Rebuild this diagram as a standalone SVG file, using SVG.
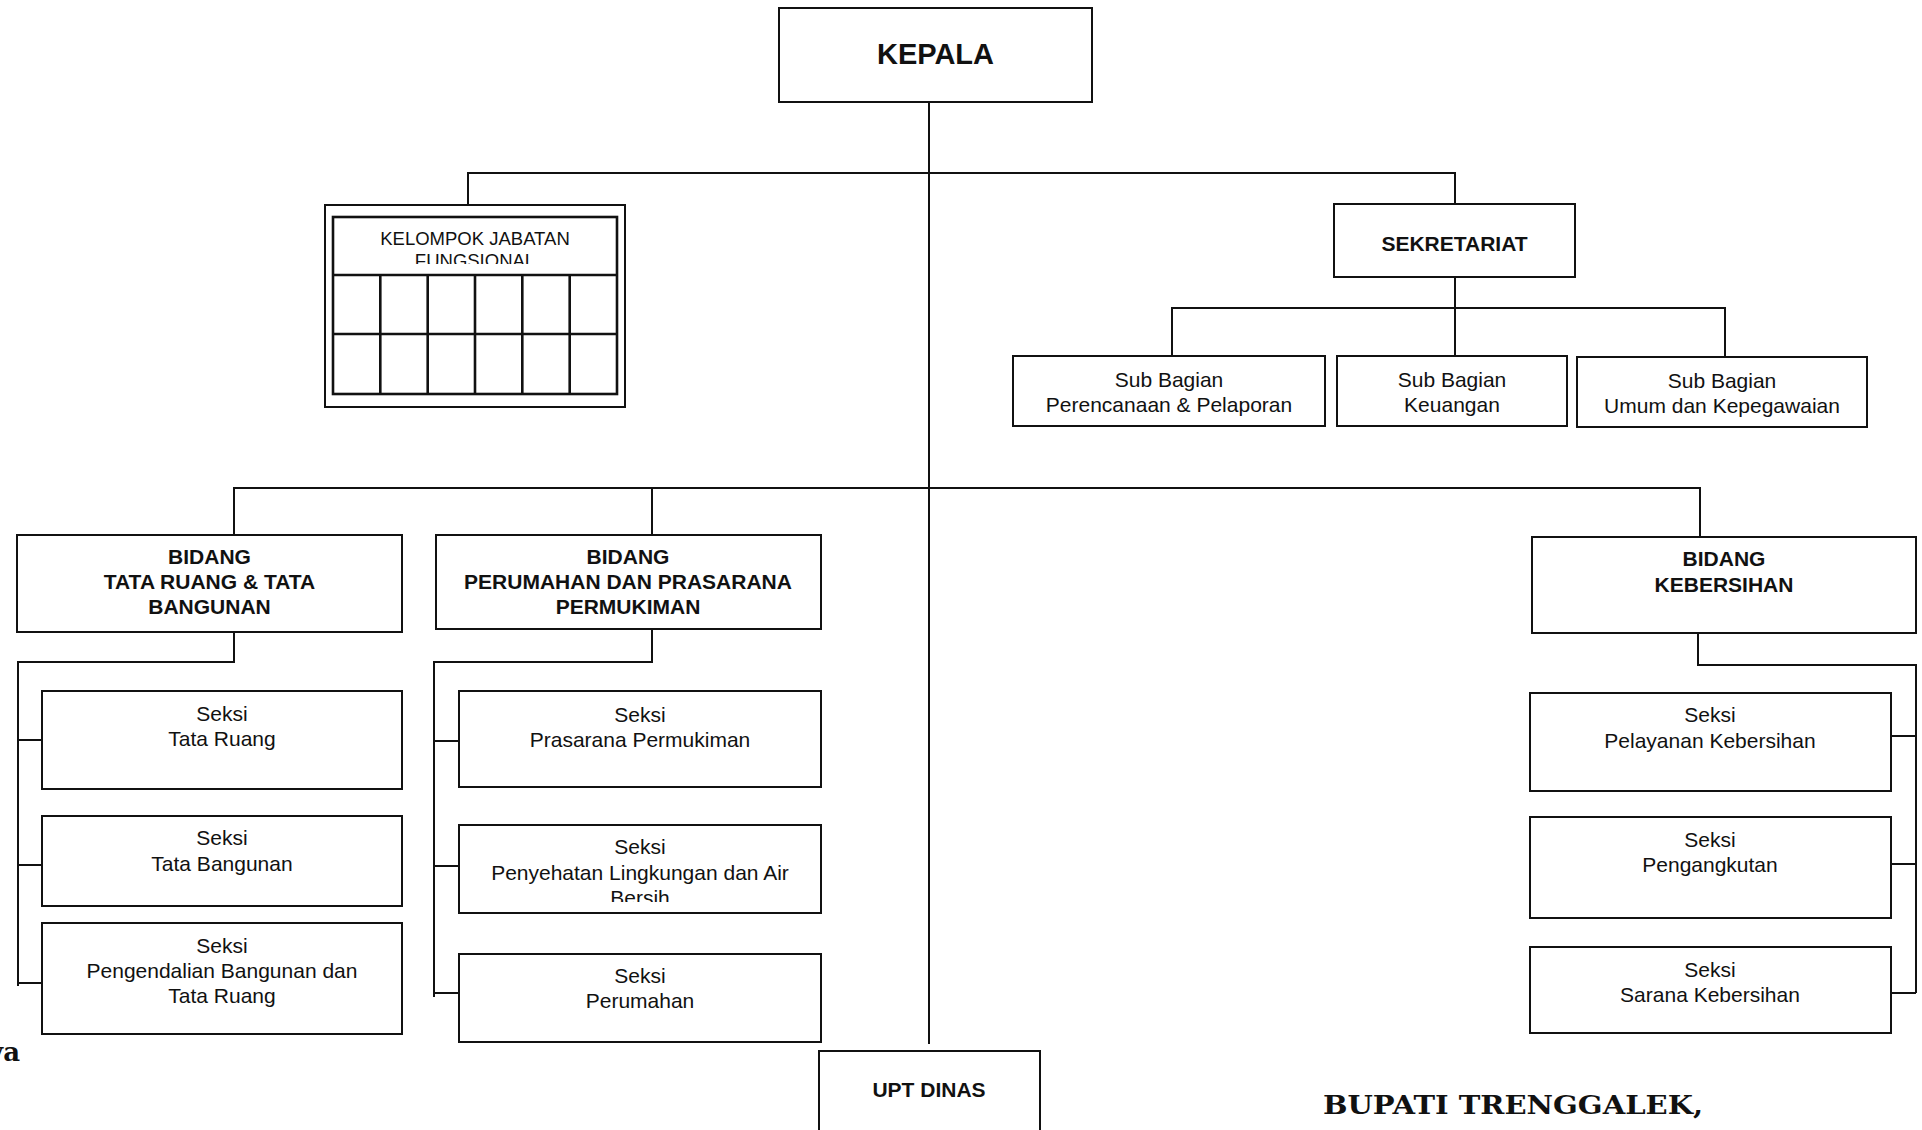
<svg xmlns="http://www.w3.org/2000/svg" width="1922" height="1130" viewBox="0 0 1922 1130">
  <style>
    .box { fill: #ffffff; stroke: #111111; stroke-width: 2; }
    .grid { fill: none; stroke: #111111; stroke-width: 2.6; }
    .conn { fill: none; stroke: #111111; stroke-width: 2; }
    text { font-family: "Liberation Sans", Arial, sans-serif; fill: #111111; text-anchor: middle; }
    .h { font-size: 21px; font-weight: bold; }
    .n { font-size: 21px; }
    .big { font-size: 29px; font-weight: bold; }
    .small { font-size: 18.5px; }
    .sig { font-family: "DejaVu Serif", "Liberation Serif", serif; font-size: 26px; font-weight: bold; }
  </style>
  <defs>
    <clipPath id="clipFungsional"><rect x="333" y="217" width="284" height="47"/></clipPath>
    <clipPath id="clipBersih"><rect x="459" y="825" width="362" height="77"/></clipPath>
  </defs>

  <rect x="0" y="0" width="1922" height="1130" fill="#ffffff"/>

  <!-- connectors -->
  <g id="connectors" class="conn">
    <!-- main spine -->
    <path d="M929 102 V1044"/>
    <!-- upper branch: fungsional / sekretariat -->
    <path d="M468 205 V173 H1455 V204"/>
    <!-- sekretariat to sub bagian -->
    <path d="M1455 277 V308"/>
    <path d="M1172 356 V308 H1725 V357"/>
    <path d="M1455 308 V356"/>
    <!-- lower branch: bidang -->
    <path d="M652 535 V488 H234 V535"/>
    <path d="M652 488 H1700 V537"/>
    <!-- bidang tata ruang to seksi -->
    <path d="M234 632 V662 H18 V986"/>
    <path d="M18 740 H42 M18 865 H42 M18 983 H42"/>
    <!-- bidang perumahan to seksi -->
    <path d="M652 629 V662 H434 V997"/>
    <path d="M434 741 H459 M434 866 H459 M434 993 H459"/>
    <!-- bidang kebersihan to seksi -->
    <path d="M1698 633 V665 H1916 V993"/>
    <path d="M1891 736 H1916 M1891 864 H1916 M1891 993 H1916"/>
  </g>

  <g id="kepala">
    <rect class="box" x="779" y="8" width="313" height="94"/>
    <text class="big" x="935.5" y="64">KEPALA</text>
  </g>

  <g id="kelompok-jabatan-fungsional">
    <rect class="box" x="325" y="205" width="300" height="202"/>
    <rect class="grid" x="333" y="217" width="284" height="177"/>
    <path class="grid" d="M333 275 H617 M333 334 H617 M380.3 275 V394 M427.7 275 V394 M475 275 V394 M522.3 275 V394 M569.7 275 V394"/>
    <text class="small" x="475" y="245">KELOMPOK JABATAN</text>
    <text class="small" x="475" y="267" clip-path="url(#clipFungsional)">FUNGSIONAL</text>
  </g>

  <g id="sekretariat">
    <rect class="box" x="1334" y="204" width="241" height="73"/>
    <text class="h" x="1454.5" y="251">SEKRETARIAT</text>
  </g>

  <g id="subbag-perencanaan">
    <rect class="box" x="1013" y="356" width="312" height="70"/>
    <text class="n" x="1169" y="387">Sub Bagian</text>
    <text class="n" x="1169" y="412">Perencanaan &amp; Pelaporan</text>
  </g>

  <g id="subbag-keuangan">
    <rect class="box" x="1337" y="356" width="230" height="70"/>
    <text class="n" x="1452" y="387">Sub Bagian</text>
    <text class="n" x="1452" y="412">Keuangan</text>
  </g>

  <g id="subbag-umum">
    <rect class="box" x="1577" y="357" width="290" height="70"/>
    <text class="n" x="1722" y="388">Sub Bagian</text>
    <text class="n" x="1722" y="413">Umum dan Kepegawaian</text>
  </g>

  <g id="bidang-tata-ruang">
    <rect class="box" x="17" y="535" width="385" height="97"/>
    <text class="h" x="209.5" y="564">BIDANG</text>
    <text class="h" x="209.5" y="589">TATA RUANG &amp; TATA</text>
    <text class="h" x="209.5" y="614">BANGUNAN</text>
  </g>

  <g id="bidang-perumahan">
    <rect class="box" x="436" y="535" width="385" height="94"/>
    <text class="h" x="628" y="564">BIDANG</text>
    <text class="h" x="628" y="589">PERUMAHAN DAN PRASARANA</text>
    <text class="h" x="628" y="614">PERMUKIMAN</text>
  </g>

  <g id="bidang-kebersihan">
    <rect class="box" x="1532" y="537" width="384" height="96"/>
    <text class="h" x="1724" y="566">BIDANG</text>
    <text class="h" x="1724" y="592">KEBERSIHAN</text>
  </g>

  <g id="seksi-tata-ruang">
    <rect class="box" x="42" y="691" width="360" height="98"/>
    <text class="n" x="222" y="721">Seksi</text>
    <text class="n" x="222" y="746">Tata Ruang</text>
  </g>

  <g id="seksi-tata-bangunan">
    <rect class="box" x="42" y="816" width="360" height="90"/>
    <text class="n" x="222" y="845">Seksi</text>
    <text class="n" x="222" y="870.5">Tata Bangunan</text>
  </g>

  <g id="seksi-pengendalian">
    <rect class="box" x="42" y="923" width="360" height="111"/>
    <text class="n" x="222" y="953">Seksi</text>
    <text class="n" x="222" y="978">Pengendalian Bangunan dan</text>
    <text class="n" x="222" y="1003">Tata Ruang</text>
  </g>

  <g id="seksi-prasarana">
    <rect class="box" x="459" y="691" width="362" height="96"/>
    <text class="n" x="640" y="722">Seksi</text>
    <text class="n" x="640" y="747">Prasarana Permukiman</text>
  </g>

  <g id="seksi-penyehatan">
    <rect class="box" x="459" y="825" width="362" height="88"/>
    <text class="n" x="640" y="854">Seksi</text>
    <text class="n" x="640" y="880">Penyehatan Lingkungan dan Air</text>
    <text class="n" x="640" y="905" clip-path="url(#clipBersih)">Bersih</text>
  </g>

  <g id="seksi-perumahan">
    <rect class="box" x="459" y="954" width="362" height="88"/>
    <text class="n" x="640" y="983">Seksi</text>
    <text class="n" x="640" y="1008">Perumahan</text>
  </g>

  <g id="seksi-pelayanan">
    <rect class="box" x="1530" y="693" width="361" height="98"/>
    <text class="n" x="1710" y="722">Seksi</text>
    <text class="n" x="1710" y="748">Pelayanan Kebersihan</text>
  </g>

  <g id="seksi-pengangkutan">
    <rect class="box" x="1530" y="817" width="361" height="101"/>
    <text class="n" x="1710" y="847">Seksi</text>
    <text class="n" x="1710" y="872">Pengangkutan</text>
  </g>

  <g id="seksi-sarana">
    <rect class="box" x="1530" y="947" width="361" height="86"/>
    <text class="n" x="1710" y="977">Seksi</text>
    <text class="n" x="1710" y="1002">Sarana Kebersihan</text>
  </g>

  <g id="upt-dinas">
    <rect class="box" x="819" y="1051" width="221" height="90"/>
    <text class="h" x="929" y="1097">UPT DINAS</text>
  </g>

  <!-- signature block -->
  <text class="sig" x="20" y="1061" style="text-anchor: end">va</text>
  <text class="sig" x="1323" y="1114" style="text-anchor: start" textLength="380" lengthAdjust="spacingAndGlyphs">BUPATI TRENGGALEK,</text>
</svg>
